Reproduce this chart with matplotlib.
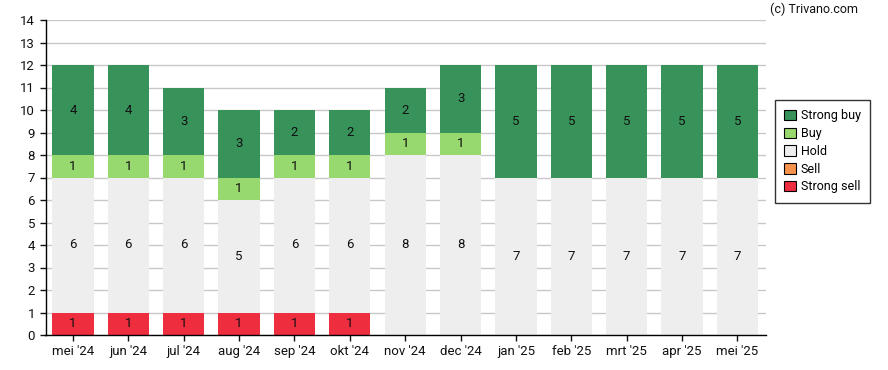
import matplotlib.pyplot as plt
import numpy as np
from matplotlib.patches import Patch

plt.rcParams["font.family"] = ["Roboto", "DejaVu Sans"]

months = ["mei '24", "jun '24", "jul '24", "aug '24", "sep '24", "okt '24", "nov '24",
          "dec '24", "jan '25", "feb '25", "mrt '25", "apr '25", "mei '25"]
strong_sell = [1, 1, 1, 1, 1, 1, 0, 0, 0, 0, 0, 0, 0]
sell = [0, 0, 0, 0, 0, 0, 0, 0, 0, 0, 0, 0, 0]
hold = [6, 6, 6, 5, 6, 6, 8, 8, 7, 7, 7, 7, 7]
buy = [1, 1, 1, 1, 1, 1, 1, 1, 0, 0, 0, 0, 0]
strong_buy = [4, 4, 3, 3, 2, 2, 2, 3, 5, 5, 5, 5, 5]

series = [
    ("Strong sell", strong_sell, "#ee2d3e"),
    ("Sell", sell, "#f7934c"),
    ("Hold", hold, "#eeeeee"),
    ("Buy", buy, "#97d86f"),
    ("Strong buy", strong_buy, "#38935a"),
]

fig = plt.figure(figsize=(8.88, 3.70), dpi=100)
ax = fig.add_axes([45.5 / 888, 35 / 370, (766 - 45.5) / 888, (335 - 20) / 370])

x = np.arange(len(months))
bottom = np.zeros(len(months))
for name, vals, color in series:
    vals = np.array(vals, dtype=float)
    ax.bar(x, vals, bottom=bottom, width=0.746, color=color, zorder=2)
    for xi, v, b in zip(x, vals, bottom):
        if v > 0:
            ax.text(xi, b + v / 2, f"{int(v)}", ha="center", va="center",
                    fontsize=9.5, color="#111111", zorder=3)
    bottom += vals

ax.set_xlim(-0.495, 12.515)
ax.set_ylim(0, 14)
ax.set_yticks(range(0, 15))
ax.set_xticks(x)
ax.set_xticklabels(months)
ax.tick_params(axis="both", labelsize=9.5, colors="#111111", length=4, width=1)
ax.grid(axis="y", color="#c8c8c8", linewidth=1, zorder=0)
ax.set_axisbelow(True)
for side in ["top", "right"]:
    ax.spines[side].set_visible(False)
for side in ["left", "bottom"]:
    ax.spines[side].set_color("#000000")
    ax.spines[side].set_linewidth(1)

handles = [Patch(facecolor=c, edgecolor="#000000", linewidth=0.8, label=n)
           for n, _, c in reversed(series)]
leg = fig.legend(handles=handles, loc="upper left", bbox_to_anchor=(775 / 888, 1 - 100 / 370),
                 frameon=True, fancybox=False, fontsize=9, handlelength=0.9, handleheight=0.9,
                 handletextpad=0.4, labelspacing=0.38, borderpad=0.75, borderaxespad=0)
leg.get_frame().set_edgecolor("#000000")
leg.get_frame().set_linewidth(1)

fig.text(858 / 888, 1 - 9 / 370, "(c) Trivano.com", ha="right", va="center", fontsize=9,
         color="#111111")

fig.savefig("out.png", dpi=100)
